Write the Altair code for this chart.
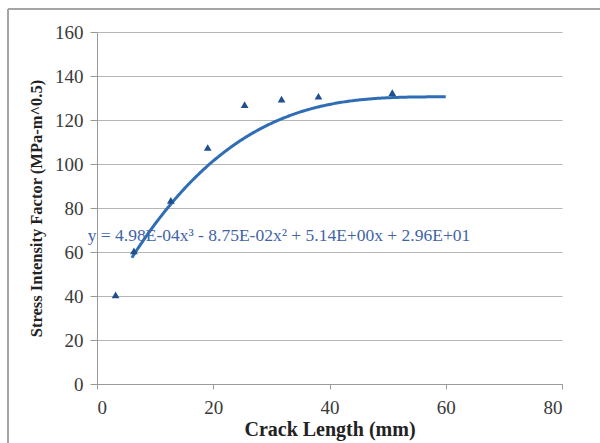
import altair as alt
import pandas as pd

# Measured data (crack length mm, stress intensity factor)
crack_len = [3.2, 6.35, 12.7, 19.05, 25.4, 31.75, 38.1, 50.8]
sif = [40.5, 60.5, 83.5, 107.5, 127.0, 129.5, 130.8, 132.4]

# Trendline coefficients as displayed (cubic)
coef_a3 = 4.98e-04
coef_a2 = -8.75e-02
coef_a1 = 5.14
coef_a0 = 29.6
trend_start = 6.0
trend_end = 60.0

eq_label = ["y = 4.98E-04x³ - 8.75E-02x² + 5.14E+00x + 2.96E+01"]
eq_x = [-1.6]
eq_y = [67.5]

x_ticks = [0, 20, 40, 60, 80]
y_ticks = [0, 20, 40, 60, 80, 100, 120, 140, 160]

pts = pd.DataFrame({"x": crack_len, "y": sif})
eq = pd.DataFrame({"x": eq_x, "y": eq_y, "t": eq_label})

xs = alt.Scale(domain=[0, 80], nice=False, zero=False)
ys = alt.Scale(domain=[0, 160], nice=False)

SERIF = "Liberation Serif"

x_axis = alt.Axis(values=x_ticks, title="Crack Length (mm)", grid=False,
                  titleFontSize=20, titlePadding=2, tickSize=5, labelPadding=9)
y_axis = alt.Axis(values=y_ticks, title="Stress Intensity Factor (MPa-m^0.5)",
                  titleFontSize=16.5, titlePadding=10, tickSize=7, labelPadding=7)

points = alt.Chart(pts).mark_point(shape="triangle-up", filled=True, size=60,
                                   color="#1f4f8f", opacity=1).encode(
    x=alt.X("x:Q", scale=xs, axis=x_axis),
    y=alt.Y("y:Q", scale=ys, axis=y_axis),
)

trend = alt.Chart(alt.sequence(trend_start, trend_end + 0.25, 0.25, as_="x")).transform_calculate(
    y=f"{coef_a3}*pow(datum.x,3) + ({coef_a2})*pow(datum.x,2) + {coef_a1}*datum.x + {coef_a0}"
).mark_line(color="#2f6db5", strokeWidth=3).encode(
    x=alt.X("x:Q", scale=xs),
    y=alt.Y("y:Q", scale=ys),
)

text = alt.Chart(eq).mark_text(align="left", baseline="middle", font=SERIF,
                               fontSize=17.5, color="#3f64a8").encode(
    x=alt.X("x:Q", scale=xs),
    y=alt.Y("y:Q", scale=ys),
    text="t:N",
)

frame_top = alt.Chart(eq).mark_rule(color="#a5a5a5", strokeWidth=2).encode(
    x=alt.value(-89), x2=alt.value(520), y=alt.value(-23))
frame_left = alt.Chart(eq).mark_rule(color="#a5a5a5", strokeWidth=2).encode(
    x=alt.value(-89), y=alt.value(-23), y2=alt.value(420))

chart = alt.layer(frame_top, frame_left, trend, points, text).properties(
    width=465, height=352,
    autosize=alt.AutoSizeParams(type="none"),
    padding={"left": 97, "top": 32, "right": 38, "bottom": 59},
    background="white",
).configure_view(stroke=None).configure_axis(
    labelFont=SERIF, labelFontSize=19, labelColor="#3a3a3a",
    titleFont=SERIF, titleFontWeight="bold", titleColor="#222222",
    domainColor="#9a9a9a", tickColor="#9a9a9a",
    gridColor="#b5b5b5", gridWidth=1.2,
)

chart.save("out.html", embed_options={"renderer": "svg", "actions": False})
